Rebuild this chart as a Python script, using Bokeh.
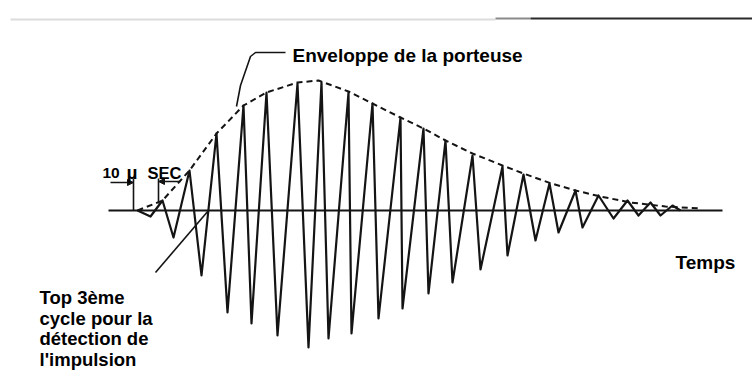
from bokeh.plotting import figure
from bokeh.models import Range1d, Label, Arrow, NormalHead
from bokeh.embed import file_html
from bokeh.resources import INLINE

# ---- data: time in microseconds (one carrier cycle = 10 us), amplitude in arbitrary units ----
wave_t = [1.6, 6.8, 11.6, 16.0, 22.4, 27.2, 33.2, 37.6, 44.0, 47.2, 53.2, 57.6, 65.6, 70.0,
          75.2, 78.0, 86.0, 87.2, 95.6, 98.0, 106.8, 107.6, 116.0, 118.0, 124.8, 127.6,
          135.6, 138.8, 147.6, 149.6, 156.0, 160.8, 166.4, 170.0, 176.8, 179.6, 186.0,
          192.0, 197.6, 202.0, 206.8, 210.8, 215.6, 218.8]
wave_a = [0.0, -0.06, 0.10, -0.27, 0.40, -0.65, 0.77, -1.02, 1.05, -1.13, 1.18, -1.25, 1.27, -1.37,
          1.28, -1.28, 1.18, -1.23, 1.07, -1.08, 0.93, -0.98, 0.82, -0.83, 0.70, -0.72,
          0.55, -0.59, 0.44, -0.45, 0.36, -0.30, 0.27, -0.22, 0.20, -0.17, 0.15,
          -0.08, 0.10, -0.05, 0.08, -0.05, 0.05, 0.0]

env_t = [1.6, 11.6, 22.4, 33.2, 44.0, 53.2, 65.6, 74.0, 86.0, 95.6, 106.8, 116.0, 124.8,
         135.6, 147.6, 156.0, 167.2, 176.8, 186.8, 198.8, 212.8, 226.8]
env_a = [0.0, 0.10, 0.40, 0.77, 1.05, 1.18, 1.28, 1.30, 1.19, 1.07, 0.93, 0.82, 0.70,
         0.57, 0.45, 0.37, 0.27, 0.20, 0.14, 0.08, 0.04, 0.02]

axis_t = [-10.0, 235.6]
axis_a = [0.0, 0.0]

marker_t = [0.0, 10.0]          # 10 us marker
marker_top = [0.32, 0.32]
marker_bottom = [0.0, 0.07]

# leader lines of the annotations
env_leader_t = [60.8, 48.8, 46.8, 42.8, 41.2]
env_leader_a = [1.58, 1.58, 1.54, 1.25, 1.04]
top_leader_t = [8.8, 30.0]
top_leader_a = [-0.62, 0.0]

labels_text = ["Enveloppe de la porteuse", "Temps"]
note_lines = ["Top 3ème", "cycle pour la", "détection de", "l'impulsion"]

# ---- pixel helpers for annotation placement ----
def tx(px):
    return (px - 133) / 2.5

def ay(py):
    return (210 - py) / 100.0

W, H = 752, 370
p = figure(width=W, height=H, output_backend="svg", toolbar_location=None,
           x_range=Range1d(tx(0), tx(W)), y_range=Range1d(ay(H), ay(0)),
           min_border=0, min_border_left=0, min_border_right=0,
           min_border_top=0, min_border_bottom=0)
p.xaxis.visible = False
p.yaxis.visible = False
p.grid.visible = False
p.outline_line_color = None
p.background_fill_color = "white"
p.border_fill_color = "white"

INK = "#141414"

# scan border at the top
p.line([tx(10), tx(495)], [ay(19), ay(19)], line_color="#dcdcdc", line_width=2)
p.line([tx(495), tx(530)], [ay(18), ay(18)], line_color="#8a8a8a", line_width=2)
p.line([tx(530), tx(752)], [ay(18), ay(18)], line_color="#2a2a2a", line_width=2)

# time axis
p.line(axis_t, axis_a, line_color=INK, line_width=2)
# carrier
p.line(wave_t, wave_a, line_color=INK, line_width=2.2, line_join="round")
# envelope
p.line(env_t, env_a, line_color=INK, line_width=2, line_dash="6 4")

# leaders
p.line(env_leader_t, env_leader_a, line_color=INK, line_width=1.6)
p.line(top_leader_t, top_leader_a, line_color=INK, line_width=1.6)

# 10 us marker
p.segment(x0=marker_t, y0=marker_bottom, x1=marker_t, y1=marker_top, line_color=INK, line_width=1.6)
p.add_layout(Arrow(end=NormalHead(size=6, fill_color=INK, line_color=INK),
                   x_start=tx(110), y_start=ay(182), x_end=marker_t[0], y_end=ay(182),
                   line_color=INK, line_width=1.4))
p.add_layout(Arrow(end=NormalHead(size=6, fill_color=INK, line_color=INK),
                   x_start=tx(180), y_start=ay(181), x_end=marker_t[1], y_end=ay(181),
                   line_color=INK, line_width=1.4))

FONT = "Liberation Sans"

def lab(text, px, py, size, style="bold"):
    p.add_layout(Label(x=tx(px), y=ay(py), text=text, text_font=FONT, text_font_style=style,
                       text_font_size=size, text_color="#000000", text_baseline="alphabetic",
                       text_align="left"))

lab("10", 102, 172, "15.5px")
lab("µ", 126, 172, "19px")
lab("SEC", 147, 172, "16.5px")

lab(labels_text[0], 292, 55, "19px")
lab(labels_text[1], 675, 262, "19px")
for i, line in enumerate(note_lines):
    lab(line, 39, 297 + 20.5 * i, "18.5px")

open("out.html", "w").write(file_html(p, INLINE))
